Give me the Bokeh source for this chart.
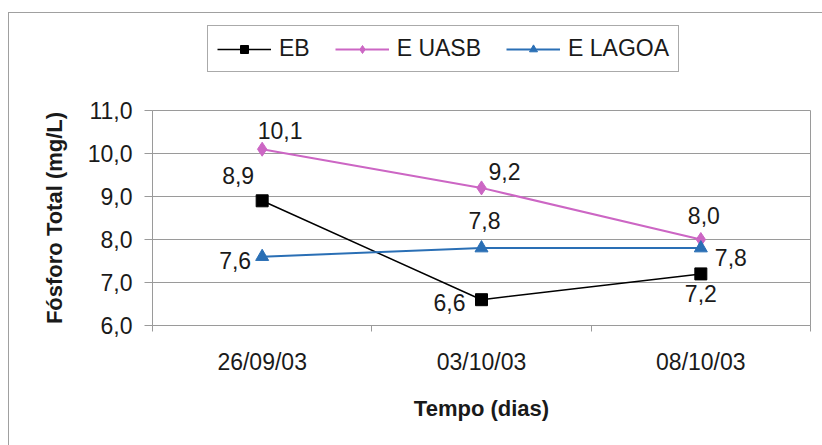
from bokeh.plotting import figure
from bokeh.layouts import column
from bokeh.models import (Range1d, FixedTicker, ColumnDataSource, LabelSet,
                          Legend, LegendItem)
from bokeh.core.properties import value
from bokeh.embed import file_html
from bokeh.resources import INLINE

# Sampling dates and total phosphorus (mg/L) per effluent
categories = ["26/09/03", "03/10/03", "08/10/03"]
eb = [8.9, 6.6, 7.2]
e_uasb = [10.1, 9.2, 8.0]
e_lagoa = [7.6, 7.8, 7.8]
y_ticks = [6, 7, 8, 9, 10, 11]

FONT = "Liberation Sans"
TXT = "#1a1a1a"
GRID = "#9a9a9a"


def fmt(v):
    return f"{v:.1f}".replace(".", ",")


xs = list(range(len(categories)))

series = [
    ("EB", eb, "#000000", "square", 12, 1.5,
     [-24, -32, 0], [25, -3, -20]),
    ("E UASB", e_uasb, "#cc66c4", "diamond", 14, 2,
     [18, 23, 3], [19, 16, 24]),
    ("E LAGOA", e_lagoa, "#2a6fb5", "triangle", 13, 2,
     [-27, 3, 30], [-4, 28, -9]),
]

# ---- main chart -------------------------------------------------------
p = figure(width=813, height=350, output_backend="svg", toolbar_location=None,
           x_range=Range1d(-0.5, len(categories) - 0.5), y_range=Range1d(6, 11),
           min_border_left=143, min_border_right=12, min_border_top=15,
           min_border_bottom=120)
p.background_fill_color = "white"
p.border_fill_color = "white"
p.outline_line_color = GRID
p.outline_line_width = 1

p.yaxis.ticker = FixedTicker(ticks=y_ticks)
p.yaxis.major_label_overrides = {t: fmt(t) for t in y_ticks}
p.yaxis.axis_label = "Fósforo Total (mg/L)"
p.yaxis.major_tick_out = 8
p.yaxis.major_tick_in = 0
p.yaxis.major_label_standoff = 12
p.yaxis.axis_label_standoff = 18

# category labels at the centres, tick marks between categories
p.xaxis.ticker = FixedTicker(ticks=xs, minor_ticks=[i - 0.5 for i in range(len(categories) + 1)])
p.xaxis.major_label_overrides = {i: c for i, c in enumerate(categories)}
p.xaxis.axis_label = "Tempo (dias)"
p.xaxis.major_tick_out = 0
p.xaxis.major_tick_in = 0
p.xaxis.minor_tick_out = 6
p.xaxis.minor_tick_in = 0
p.xaxis.major_label_standoff = 17
p.xaxis.axis_label_standoff = 18

p.yaxis.major_tick_line_color = GRID
p.yaxis.minor_tick_line_color = None
p.xaxis.major_tick_line_color = None
p.xaxis.minor_tick_line_color = GRID

for ax in (p.xaxis, p.yaxis):
    ax.axis_line_color = GRID
    ax.major_label_text_font = FONT
    ax.major_label_text_font_size = "23px"
    ax.major_label_text_color = TXT
    ax.axis_label_text_font = FONT
    ax.axis_label_text_font_size = "22px"
    ax.axis_label_text_font_style = "bold"
    ax.axis_label_text_color = TXT

p.xgrid.grid_line_color = None
p.ygrid.grid_line_color = GRID
p.ygrid.grid_line_width = 1

for name, vals, color, marker, size, lw, dx, dy in series:
    src = ColumnDataSource(dict(x=xs, y=vals, lab=[fmt(v) for v in vals], dx=dx, dy=dy))
    p.line("x", "y", source=src, line_color=color, line_width=lw)
    p.scatter("x", "y", source=src, marker=marker, size=size,
              fill_color=color, line_color=color)
    p.add_layout(LabelSet(x="x", y="y", text="lab", source=src,
                          x_offset="dx", y_offset="dy",
                          text_align="center", text_baseline="middle",
                          text_font=value(FONT), text_font_size="23px",
                          text_color=TXT))

# ---- legend strip above the chart ---------------------------------------
# The series are drawn again here outside the visible range, only so that
# the legend has renderers to take its keys from.
lg = figure(width=813, height=82, output_backend="svg", toolbar_location=None,
            x_range=Range1d(-0.5, len(categories) - 0.5), y_range=Range1d(100, 101),
            x_axis_location=None, y_axis_location=None,
            min_border_left=143, min_border_right=12,
            min_border_top=0, min_border_bottom=0)
lg.outline_line_color = None
lg.grid.grid_line_color = None
lg.background_fill_color = "white"
lg.border_fill_color = "white"

items = []
for name, vals, color, marker, size, lw, dx, dy in series:
    ln = lg.line(x=xs, y=vals, line_color=color, line_width=lw)
    sc = lg.scatter(x=xs, y=vals, marker=marker, size=size,
                    fill_color=color, line_color=color)
    items.append(LegendItem(label=name, renderers=[ln, sc]))

legend = Legend(items=items, orientation="horizontal", location=(55, 23),
                glyph_width=54, glyph_height=20, label_height=25,
                label_standoff=8, spacing=25, padding=9, margin=0,
                label_text_font=FONT, label_text_font_size="23px",
                label_text_color=TXT, border_line_color="#555555",
                border_line_width=1, background_fill_color="white",
                background_fill_alpha=1)
lg.add_layout(legend, "center")

page = column(lg, p, spacing=0)
# chart area frame: thin grey line on the top and left of the chart
page.margin = (12, 0, 0, 8)
page.styles = {"border-top": "1px solid #a0a0a0", "border-left": "1px solid #a0a0a0"}

open("out.html", "w").write(file_html(page, INLINE))
